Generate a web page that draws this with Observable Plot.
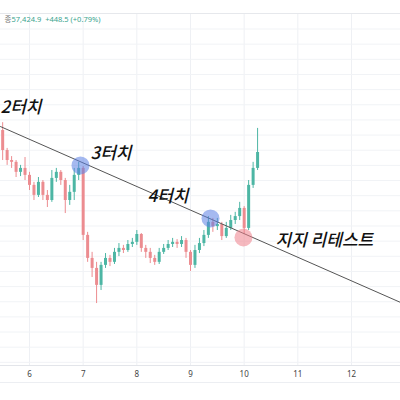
<!DOCTYPE html>
<html><head><meta charset="utf-8">
<script src="https://cdn.jsdelivr.net/npm/d3@7"></script>
<script src="https://cdn.jsdelivr.net/npm/@observablehq/plot@0.6"></script>
<style>body{margin:0;background:#fff;overflow:hidden}</style>
</head><body><div id="chart"></div>
<script>
// 2-hour candles starting day 5, 12:00 (x in days of the month)
const firstCandleDay = 5.5;
const candleStepDays = 1 / 12;
const firstOpen = 58150;
const closes = [57490,57160,57100,56770,56900,56670,56340,56010,56440,56010,
  55840,56570,56770,56500,55840,56110,56670,56900,54690,53930,
  53600,53040,53700,53930,53800,54130,54260,54190,54390,54460,
  54720,54260,54130,53930,53800,54130,54260,54390,54460,54390,
  54520,54130,53700,54190,54420,54690,55120,54980,55050,54650,
  54920,55180,55310,55580,54920,56340,56900,57425];
const highs = [58410,57560,57290,57160,57000,57260,56770,56440,56600,56500,
  56170,56830,56900,56830,56570,56340,56900,57100,56960,54790,
  54130,53800,53800,54090,54030,54260,54420,54360,54520,54590,
  54850,54750,54360,54260,54030,54260,54390,54520,54590,54550,
  54650,54590,54190,54360,54590,54850,55310,55250,55250,55120,
  55120,55350,55450,55780,55640,56500,57100,58220];
const lows = [57160,57000,56900,56600,56630,56500,56170,55840,55940,55840,
  55610,55780,56440,56340,55410,55680,55840,56500,54520,53800,
  53300,52440,52870,53600,53660,53730,53990,54090,54130,54290,
  54360,54130,53930,53760,53700,53730,54060,54190,54290,54260,
  54290,53930,53500,53600,54090,54320,54590,54790,54850,54520,
  54590,54850,55050,55180,54720,54850,56240,56830];

const tickDays = [6, 7, 8, 9, 10, 11, 12];
const gridPrices = [50500,51000,51500,52000,52500,53000,53500,54000,54500,55000,55500,56000,56500,57000,57500,58000,58500,59000,59500,60000,60500,61000,61500];

const trendDays = [5.46, 12.91];
const trendPrices = [58280, 52480];

const touchDays = [6.95, 9.373, 9.987];
const touchPrices = [57000, 55250, 54620];
const touchKinds = ["blue", "blue", "red"];

const labelTexts = ["2터치", "3터치", "4터치", "지지 리테스트"];
const labelDays = [5.46, 7.137, 8.199, 10.584];
const labelPrices = [58910, 57390, 55970, 54520];

const headerSymbol = "종";
const headerValues = "57,424.9  +448.5 (+0.79%)";

// build candle table
const candles = closes.map((c, i) => ({
  day: firstCandleDay + i * candleStepDays,
  open: i === 0 ? firstOpen : closes[i - 1],
  close: c, high: highs[i], low: lows[i]
}));
const trend = trendDays.map((d, i) => ({day: d, price: trendPrices[i]}));
const touches = touchDays.map((d, i) => ({day: d, price: touchPrices[i], kind: touchKinds[i]}));
const labels = labelTexts.map((t, i) => ({text: t, day: labelDays[i], price: labelPrices[i]}));

const up = "#4db6a4", down = "#ec8c90";
const col = d => d.close >= d.open ? up : down;

const chart = Plot.plot({
  width: 400, height: 400,
  marginLeft: 0, marginRight: 0, marginTop: 13, marginBottom: 35,
  style: {background: "#fff", fontFamily: "Noto Sans, sans-serif"},
  x: {domain: [5.4597, 12.913], axis: null},
  y: {domain: [50396, 62012], axis: null},
  marks: [
    Plot.ruleX(tickDays, {stroke: "#eef0f4", strokeWidth: 1}),
    Plot.ruleY(gridPrices, {stroke: "#f1f3f6", strokeWidth: 1}),
    Plot.ruleY([62012], {stroke: "#e6e8ec"}),
    Plot.ruleY([50396], {stroke: "#e3e5ea"}),
    Plot.ruleY([49835], {stroke: "#eceef2"}),
    Plot.axisX({ticks: tickDays, tickSize: 0, tickPadding: 6, tickFormat: d => String(d), fontSize: 8, color: "#444", label: null}),
    Plot.ruleX(candles, {x: "day", y1: "low", y2: "high", stroke: col, strokeWidth: 1}),
    Plot.ruleX(candles, {x: "day", y1: "open", y2: "close", stroke: col, strokeWidth: 3}),
    Plot.line(trend, {x: "day", y: "price", stroke: "#555", strokeWidth: 1}),
    Plot.dot(touches, {x: "day", y: "price", r: 9, fill: d => d.kind === "blue" ? "#5b7fe3" : "#ee7f8a", fillOpacity: 0.55, stroke: "none"}),
    Plot.text(labels, {x: "day", y: "price", text: "text", textAnchor: "start", fontSize: 17, fontWeight: 500, fontStyle: "italic", fontFamily: "Noto Sans CJK KR", fill: "#111"}),
    Plot.text([headerSymbol], {frameAnchor: "top-left", dx: 4, dy: 3, fontSize: 7.5, fill: "#777", fontFamily: "Noto Sans CJK KR"}),
    Plot.text([headerValues], {frameAnchor: "top-left", dx: 11, dy: 3, fontSize: 7.5, fill: "#3aa58f", fontFamily: "Noto Sans, sans-serif"})
  ]
});
document.getElementById("chart").append(chart);
</script>
</body></html>
